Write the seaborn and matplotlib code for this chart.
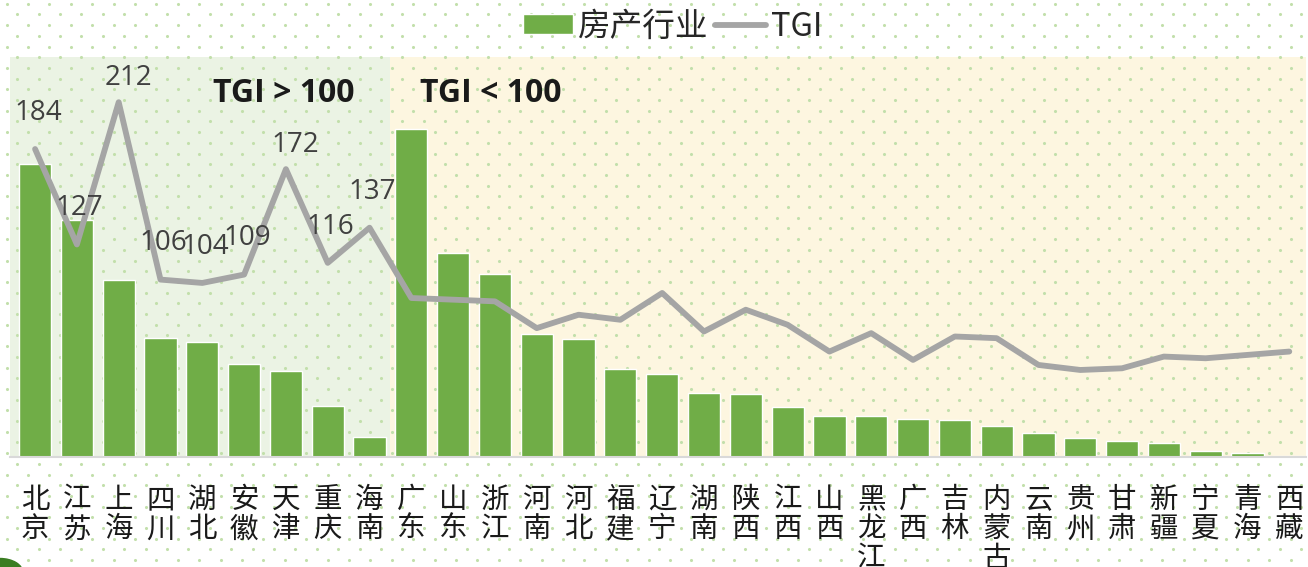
import numpy as np
import pandas as pd
import matplotlib.pyplot as plt
import seaborn as sns
from matplotlib.patches import Ellipse

# Data
provinces = ["北京", "江苏", "上海", "四川", "湖北", "安徽", "天津", "重庆", "海南",
             "广东", "山东", "浙江", "河南", "河北", "福建", "辽宁", "湖南", "陕西",
             "江西", "山西", "黑龙江", "广西", "吉林", "内蒙古", "云南", "贵州", "甘肃",
             "新疆", "宁夏", "青海", "西藏"]
share = [293, 237, 177, 119, 115, 93, 86, 51, 20,
         328, 204, 183, 123, 118, 88, 83, 64, 63,
         50, 41, 41, 38, 37, 31, 24, 19, 16,
         14, 6, 4, 1]
tgi = [184, 127, 212, 106, 104, 109, 172, 116, 137,
       95, 94, 93, 77, 85, 82, 98, 75, 88,
       79, 63, 74, 58, 72, 71, 55, 52, 53,
       60, 59, 61, 63]
n_high = 9  # first provinces with TGI > 100

df = pd.DataFrame({"province": provinces, "share": share, "tgi": tgi})
df["pos"] = np.arange(len(df))

sns.set_theme(style="white")
plt.rcParams["font.family"] = ["Noto Sans CJK SC", "DejaVu Sans"]

W, H = 1308, 567
fig = plt.figure(figsize=(W / 100, H / 100), dpi=100)
fig.patch.set_facecolor("white")
ax = fig.add_axes([10 / W, 1 - 457 / H, 1296 / W, 400 / H])
ax.patch.set_alpha(0)

xmin, xmax = -0.6, len(df) - 0.6
ax.axvspan(xmin, n_high - 0.5, color="#ebf3e4", zorder=0, lw=0)
ax.axvspan(n_high - 0.5, xmax, color="#fdf6e0", zorder=0, lw=0)

# dotted background pattern over the whole figure
dx, dy = 21.4 / W, 10.7 / H
pts = []
for r, yy in enumerate(np.arange(0.012, 1.0, dy)):
    off = dx / 2 if r % 2 else 0
    for xx in np.arange(0.005 + off, 1.0, dx):
        pts.append((xx, yy))
pts = np.array(pts)
ax.scatter(pts[:, 0], pts[:, 1], s=5, color="#c2dfab", transform=fig.transFigure,
           clip_on=False, zorder=0.5, linewidths=0)

sns.barplot(data=df, x="province", y="share", color="#70ad47", saturation=1,
            width=0.77, ax=ax, zorder=2)
ax.set_xlim(xmin, xmax)
ax.set_ylim(0, 400)
ax.set_xlabel("")
ax.set_ylabel("")
ax.set_yticks([])
ax.set_xticks(df["pos"])
ax.set_xticklabels(["\n".join(p) for p in provinces], fontsize=20.5, color="#1a1a1a",
                   linespacing=0.98, va="top")
ax.tick_params(axis="x", length=0, pad=20)
for s in ["top", "left", "right"]:
    ax.spines[s].set_visible(False)
ax.spines["bottom"].set_color("#d9d9d9")
ax.spines["bottom"].set_linewidth(1.5)

ax2 = ax.twinx()
sns.lineplot(data=df, x="pos", y="tgi", color="#a5a5a5", linewidth=4.2, ax=ax2,
             zorder=3, legend=False)
ax2.set_ylim(0, 239)
ax2.set_xlim(xmin, xmax)
ax2.set_yticks([])
ax2.set_ylabel("")
ax2.set_xlabel("")
for s in ax2.spines.values():
    s.set_visible(False)

for i in range(n_high):
    sharp_peak = 0 < i and tgi[i] - tgi[i - 1] > 30 and tgi[i] - tgi[i + 1] > 30
    off = (7, 12.5) if sharp_peak else (2, 21)
    ax2.annotate(str(tgi[i]), (i, tgi[i]), xytext=off, textcoords="offset points",
                 ha="center", va="baseline", fontsize=20, color="#404040",
                 family=["Open Sans", "DejaVu Sans"])

ax.text(5.95, 0.91, "TGI > 100", transform=ax.get_xaxis_transform(), ha="center",
        va="center", fontsize=23, fontweight="bold", color="#1a1a1a",
        family=["Open Sans", "DejaVu Sans"])
ax.text(10.9, 0.91, "TGI < 100", transform=ax.get_xaxis_transform(), ha="center",
        va="center", fontsize=23, fontweight="bold", color="#1a1a1a",
        family=["Open Sans", "DejaVu Sans"])

handles = [ax.containers[0], ax2.lines[0]]
fig.legend(handles, ["房产行业", "TGI"], loc="center", bbox_to_anchor=(0.514, 0.953),
           ncol=2, frameon=False, fontsize=23.5, handlelength=1.55, handleheight=0.55,
           handletextpad=0.15, columnspacing=0.2, borderpad=0.2)

# small decorative corner shape
fig.patches.append(Ellipse((0.0, -0.01), 0.035, 0.05, transform=fig.transFigure,
                           color="#3a7d22", zorder=5))

fig.savefig("out.png", dpi=100)
